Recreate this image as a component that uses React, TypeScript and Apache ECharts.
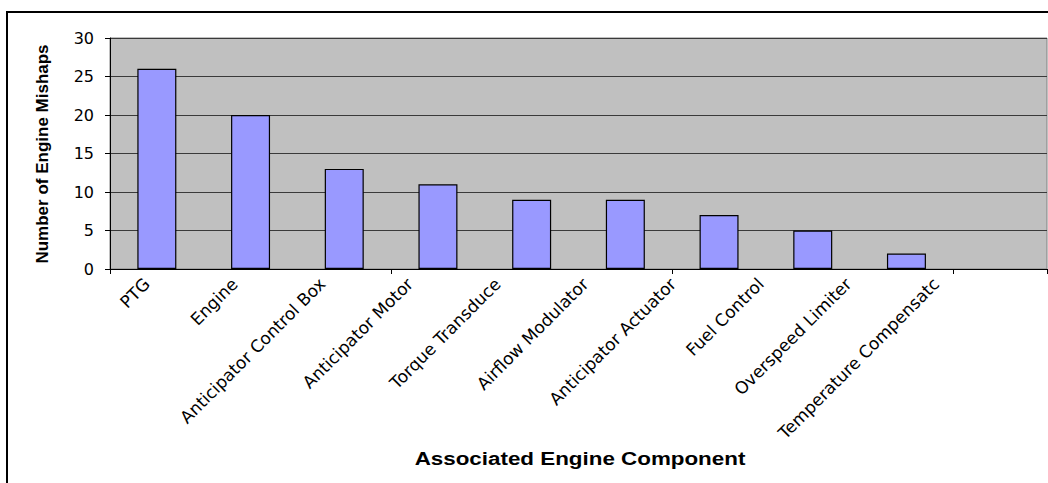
import React, { useEffect, useRef } from "react";
import * as echarts from "echarts";

const categories = [
  "PTG",
  "Engine",
  "Anticipator Control Box",
  "Anticipator Motor",
  "Torque Transduce",
  "Airflow Modulator",
  "Anticipator Actuator",
  "Fuel Control",
  "Overspeed Limiter",
  "Temperature Compensatc",
];
const mishaps = [26, 20, 13, 11, 9, 9, 7, 5, 2, 0];
const yMin = 0;
const yMax = 30;
const yStep = 5;

const yTitle = "Number of Engine Mishaps";
const xTitle = "Associated Engine Component";

export default function App() {
  const ref = useRef<HTMLDivElement>(null);

  useEffect(() => {
    if (!ref.current) return;
    const chart = echarts.init(ref.current, null, { renderer: "svg" });
    const arial = "Arial, 'Liberation Sans', sans-serif";
    const wide = "'DejaVu Sans', Verdana, sans-serif";
    chart.setOption({
      animation: false,
      backgroundColor: "#ffffff",
      textStyle: { fontFamily: wide },
      graphic: [
        {
          type: "rect",
          shape: { x: 7, y: 12, width: 1100, height: 520 },
          style: { fill: "none", stroke: "#000000", lineWidth: 2 },
          silent: true,
          z: -10,
        },
        {
          type: "text",
          x: 42,
          y: 154,
          rotation: Math.PI / 2,
          style: {
            text: yTitle,
            fontFamily: arial,
            fontSize: 17,
            fontWeight: "bold",
            fill: "#000000",
            align: "center",
            verticalAlign: "middle",
          },
        },
        {
          type: "text",
          x: 580,
          y: 459,
          scaleX: 1.28,
          style: {
            text: xTitle,
            fontFamily: arial,
            fontSize: 17.5,
            fontWeight: "bold",
            fill: "#000000",
            align: "center",
            verticalAlign: "middle",
          },
        },
      ],
      grid: [
        {
          left: 110,
          right: 1,
          top: 38,
          bottom: 214,
          show: true,
          backgroundColor: "#C0C0C0",
          borderColor: "#808080",
          borderWidth: 1,
        },
        {
          left: 103,
          right: 68,
          top: 38,
          bottom: 214,
          show: false,
        },
      ],
      xAxis: [
        {
          type: "category",
          gridIndex: 0,
          data: categories,
          boundaryGap: true,
          axisLine: { show: true, lineStyle: { color: "#000000", width: 1 } },
          axisTick: { show: true, length: 5, inside: false, lineStyle: { color: "#000000" } },
          axisLabel: { show: false },
          splitLine: { show: false },
        },
        {
          type: "category",
          gridIndex: 1,
          data: categories,
          boundaryGap: true,
          axisLine: { show: false },
          axisTick: { show: false },
          axisLabel: {
            show: true,
            interval: 0,
            rotate: 45,
            margin: 12,
            fontSize: 17,
            fontFamily: wide,
            color: "#000000",
          },
          splitLine: { show: false },
        },
      ],
      yAxis: [
        {
          type: "value",
          gridIndex: 0,
          min: yMin,
          max: yMax,
          interval: yStep,
          axisLine: { show: true, lineStyle: { color: "#000000", width: 1 } },
          axisTick: { show: true, length: 5, lineStyle: { color: "#000000" } },
          axisLabel: {
            fontSize: 16,
            fontFamily: wide,
            color: "#000000",
            margin: 16,
          },
          splitLine: { show: true, lineStyle: { color: "#3a3a3a", width: 1 } },
        },
        {
          type: "value",
          gridIndex: 1,
          min: 0,
          max: 1,
          show: false,
        },
      ],
      series: [
        {
          type: "bar",
          xAxisIndex: 0,
          yAxisIndex: 0,
          data: mishaps.map((v) =>
            v === 0 ? { value: v, itemStyle: { borderWidth: 0 } } : v
          ),
          barWidth: 39,
          itemStyle: { color: "#9999FF", borderColor: "#000000", borderWidth: 1.2 },
        },
      ],
    });
    return () => chart.dispose();
  }, []);

  return (
    <div
      ref={ref}
      style={{ position: "fixed", left: 0, top: 0, width: 1048, height: 483 }}
    />
  );
}
